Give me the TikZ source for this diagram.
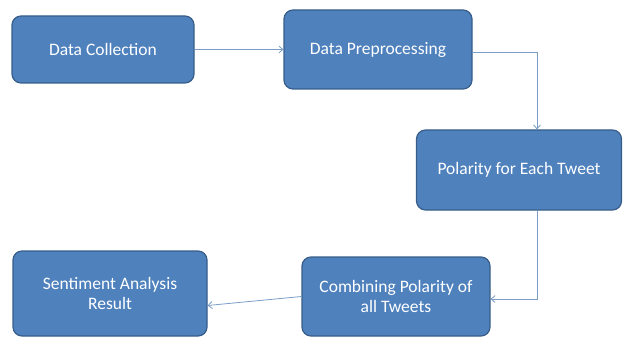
\documentclass[tikz,border=0pt]{standalone}
\usepackage{fontspec}
\setmainfont{Carlito}
\usepackage{xcolor}
\usetikzlibrary{arrows.meta}

\definecolor{boxblue}{HTML}{4F81BD}
\definecolor{boxedge}{HTML}{385D8A}
\definecolor{linkblue}{HTML}{7A9CC6}

\begin{document}
\begin{tikzpicture}[x=1pt, y=-1pt,
    stage/.style={draw=boxedge, line width=1.2pt, fill=boxblue, rounded corners=9pt,
        text=white, font=\fontsize{17.5}{20.5}\selectfont, align=center, inner sep=0pt},
    link/.style={draw=linkblue, line width=0.8pt, -{Straight Barb[length=4pt,width=7pt]}}]
    \useasboundingbox (0,0) rectangle (623,339);
    \node[stage, minimum width=182pt, minimum height=67pt] (collect) at (103,49.5) {Data Collection};
    \node[stage, minimum width=188pt, minimum height=79pt] (prep) at (378,49.5) {Data Preprocessing};
    \node[stage, minimum width=205pt, minimum height=80pt] (polar) at (519,170) {Polarity for Each Tweet};
    \node[stage, minimum width=188pt, minimum height=79pt] (comb) at (396,296.5) {Combining Polarity of\\all Tweets};
    \node[stage, minimum width=194pt, minimum height=85pt] (result) at (110,293.5) {Sentiment Analysis\\Result};
    \coordinate (bend1) at (537,52);
    \coordinate (bend2) at (537,299);
    \draw[link] (collect) -- (prep);
    \draw[link] (prep.east |- bend1) -- (bend1) -- (bend1 |- polar.north);
    \draw[link] (polar.south -| bend2) -- (bend2) -- (bend2 -| comb.east);
    \draw[link] (comb.west) -- ([yshift=-12pt]result.east);
\end{tikzpicture}
\end{document}
